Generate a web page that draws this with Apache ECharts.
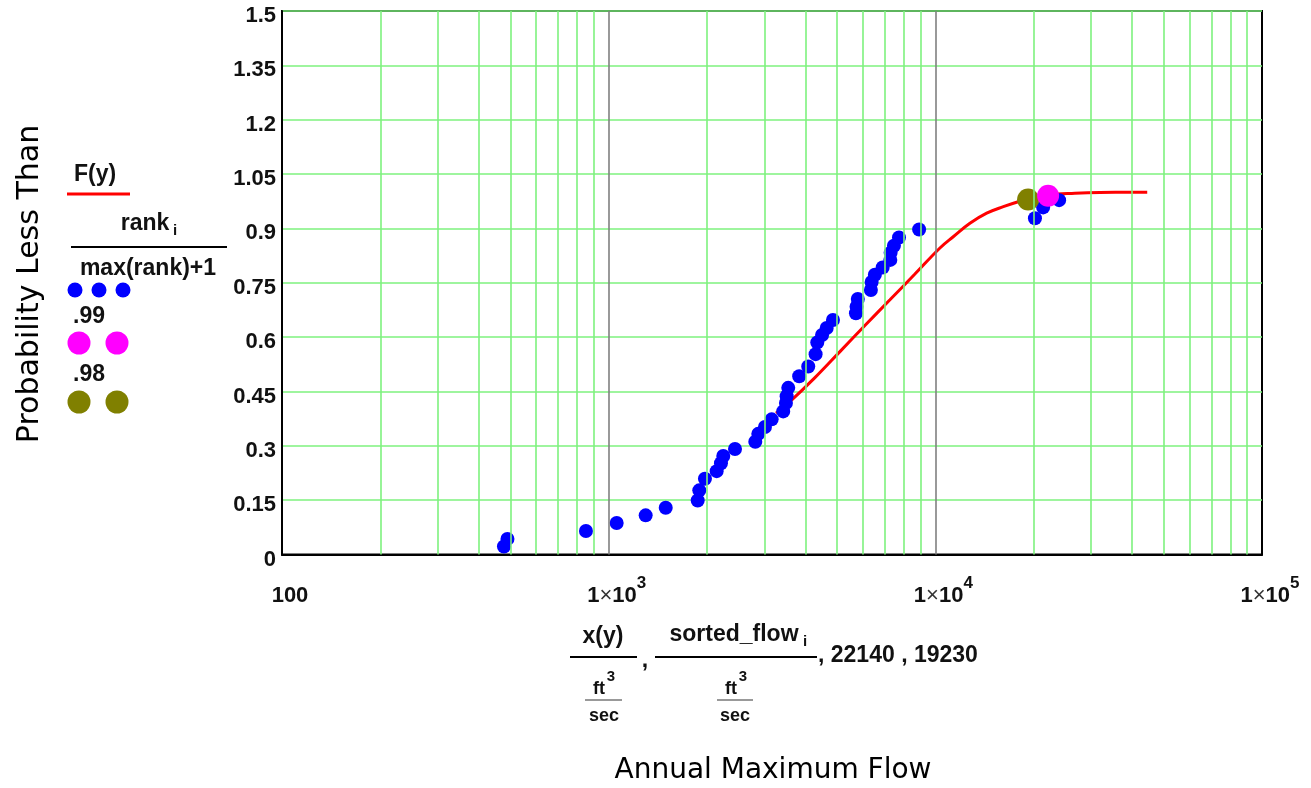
<!DOCTYPE html>
<html>
<head>
<meta charset="utf-8">
<script src="https://cdn.jsdelivr.net/npm/echarts@6/dist/echarts.min.js"></script>
<style>
html,body{margin:0;padding:0;background:#fff;}
#chart{width:1311px;height:788px;}
</style>
</head>
<body>
<div id="chart"></div>
<script>
// ---- Data ----
const sortedFlow = [478, 490, 852, 1058, 1298, 1495, 1873, 1894, 1971, 2141, 2207, 2243, 2436, 2811, 2871, 3009, 3155, 3422, 3489, 3506, 3546,
  3830, 4083, 4300, 4351, 4500, 4650, 4860, 5715, 5740, 5790, 6350, 6383, 6530, 6898, 7280, 7297, 7470, 7740, 8920, 20180, 21380, 23930];
const rankProb = [0.022, 0.043, 0.065, 0.087, 0.108, 0.129, 0.149, 0.177, 0.209, 0.230, 0.252, 0.272, 0.291, 0.311, 0.333, 0.352, 0.373, 0.395, 0.418, 0.437, 0.460,
  0.492, 0.519, 0.553, 0.585, 0.606, 0.625, 0.647, 0.666, 0.684, 0.705, 0.730, 0.752, 0.772, 0.792, 0.813, 0.833, 0.852, 0.875, 0.897, 0.928, 0.958, 0.978];
const curveFlow = [3252, 3589, 4280, 5105, 6087, 7262, 8660, 10330, 11345, 12760, 14360, 16150, 18140, 20180, 22160, 26750, 31900, 44530];
const curveProb = [0.39, 0.422, 0.488, 0.560, 0.632, 0.703, 0.774, 0.846, 0.877, 0.914, 0.942, 0.960, 0.975, 0.986, 0.993, 0.997, 0.999, 1.0];
const point99 = [22140, 0.99];
const point98 = [19230, 0.98];
const xTickValues = [100, 1000, 10000, 100000];
const xTickLabels = ['100', '1×10^3', '1×10^4', '1×10^5'];
const yTickLabels = ['0', '0.15', '0.3', '0.45', '0.6', '0.75', '0.9', '1.05', '1.2', '1.35', '1.5'];

// ---- Build ----
const FF = '"Liberation Sans", Arial, Helvetica, sans-serif';
const TF = '"DejaVu Sans", "Open Sans", sans-serif';
const GREEN = '#7ef27e';

const blueData = sortedFlow.map((f, i) => [f, rankProb[i]]);
const curveData = curveFlow.map((f, i) => [f, curveProb[i]]);

const minorLines = [];
for (let d = 100; d < 100000; d *= 10) {
  for (let m = 2; m <= 9; m++) minorLines.push({ xAxis: d * m });
}
const majorLines = [{ xAxis: 1000 }, { xAxis: 10000 }];

function xLabel(v) {
  const idx = xTickValues.findIndex(t => Math.abs(Math.log10(t) - Math.log10(v)) < 1e-6);
  if (idx < 0) return '';
  const s = xTickLabels[idx];
  if (s.indexOf('^') < 0) return '{b|' + s + '}';
  const parts = s.split('^');
  const base = parts[0].split('×');
  return '{b|' + base[0] + '}{x|×}{b|' + base[1] + '}{s|' + parts[1] + '}';
}
function yLabel(v) {
  const idx = Math.round(v / 0.15);
  return yTickLabels[idx] !== undefined ? '{a|' + yTickLabels[idx] + '}' : '';
}

const bold22 = 'bold 23px ' + FF;
const bold18 = 'bold 18px ' + FF;
const bold15 = 'bold 15px ' + FF;
function txt(text, x, y, font, align, color) {
  return { type: 'text', z: 100, style: { text: text, x: x, y: y, font: font, fill: color || '#111',
    textAlign: align || 'center', textVerticalAlign: 'middle', align: align || 'center', verticalAlign: 'middle' } };
}
function ln(x1, y1, x2, y2, color, w) {
  return { type: 'line', z: 100, shape: { x1: x1, y1: y1, x2: x2, y2: y2 }, style: { stroke: color, lineWidth: w } };
}
function dot(cx, cy, r, color) {
  return { type: 'circle', z: 100, shape: { cx: cx, cy: cy, r: r }, style: { fill: color } };
}

const graphics = [
  // axis titles
  { type: 'text', z: 100, x: 30, y: 284, rotation: Math.PI / 2,
    style: { text: 'Probability Less Than', font: '30px ' + TF, fill: '#000', textAlign: 'center', textVerticalAlign: 'middle', align: 'center', verticalAlign: 'middle' } },
  txt('Annual Maximum Flow', 773, 771, '28px ' + TF, 'center', '#000'),
  // legend
  txt('F(y)', 95, 175, bold22),
  ln(67, 194, 130, 194, '#ff0000', 3),
  txt('rank', 145, 224, bold22),
  txt('i', 175, 231, bold15),
  ln(71, 247, 227, 247, '#000', 2),
  txt('max(rank)+1', 148, 269, bold22),
  dot(75, 290, 7.5, '#0000ff'), dot(99, 290, 7.5, '#0000ff'), dot(123, 290, 7.5, '#0000ff'),
  txt('.99', 89, 317, bold22),
  dot(79, 343, 11.5, '#ff00ff'), dot(117, 343, 11.5, '#ff00ff'),
  txt('.98', 89, 375, bold22),
  dot(79, 402, 11.5, '#808000'), dot(117, 402, 11.5, '#808000'),
  // x expression
  txt('x(y)', 603, 637, bold22),
  ln(570, 657, 637, 657, '#000', 2),
  txt('ft', 599, 689, bold18),
  txt('3', 611, 677, bold15),
  ln(585, 700, 622, 700, '#777', 1.5),
  txt('sec', 604, 716, bold18),
  txt(',', 645, 661, bold22),
  txt('sorted_flow', 734, 635, bold22),
  txt('i', 805, 642, bold15),
  ln(655, 657, 817, 657, '#000', 2),
  txt('ft', 731, 689, bold18),
  txt('3', 743, 677, bold15),
  ln(717, 700, 753, 700, '#777', 1.5),
  txt('sec', 735, 716, bold18),
  txt(', 22140 , 19230', 818, 656, bold22, 'left')
];

const chart = echarts.init(document.getElementById('chart'), null, { renderer: 'canvas' });
chart.setOption({
  animation: false,
  backgroundColor: '#fff',
  grid: { left: 282, top: 11, right: 49, bottom: 233.5, show: true, borderColor: '#000', borderWidth: 2, backgroundColor: 'transparent' },
  xAxis: {
    type: 'log', logBase: 10, min: 100, max: 100000,
    axisLine: { show: true, lineStyle: { color: '#000', width: 2 } },
    axisTick: { show: false },
    splitLine: { show: false },
    minorSplitLine: { show: false },
    axisLabel: {
      formatter: xLabel, margin: 20, padding: [0, 0, 0, 16], showMinLabel: true, showMaxLabel: true,
      rich: {
        b: { fontFamily: FF, fontSize: 22, fontWeight: 'bold', color: '#111', lineHeight: 32, verticalAlign: 'bottom' },
        x: { fontFamily: FF, fontSize: 22, fontWeight: 'normal', color: '#333', lineHeight: 32, verticalAlign: 'bottom' },
        s: { fontFamily: FF, fontSize: 17, fontWeight: 'bold', color: '#111', lineHeight: 14, verticalAlign: 'top' }
      }
    }
  },
  yAxis: {
    type: 'value', min: 0, max: 1.5, interval: 0.15,
    axisLine: { show: true, lineStyle: { color: '#000', width: 2 } },
    axisTick: { show: false },
    splitLine: { show: true, lineStyle: { color: GREEN, width: 1.6 } },
    axisLabel: {
      formatter: yLabel, margin: 6, showMinLabel: true, showMaxLabel: true,
      rich: { a: { fontFamily: FF, fontSize: 22, fontWeight: 'bold', color: '#111', padding: [10, 0, 0, 0] } }
    }
  },
  graphic: graphics,
  series: [
    {
      type: 'line', data: [], z: 1, silent: true,
      markLine: {
        silent: true, symbol: ['none', 'none'], label: { show: false }, animation: false,
        lineStyle: { color: GREEN, width: 1.6, type: 'solid' },
        data: minorLines
      }
    },
    {
      type: 'line', data: [], z: 1, silent: true,
      markLine: {
        silent: true, symbol: ['none', 'none'], label: { show: false }, animation: false,
        lineStyle: { color: '#808080', width: 1.6, type: 'solid' },
        data: majorLines
      }
    },
    {
      name: 'F(y)', type: 'line', data: curveData, smooth: 0.4, showSymbol: false, z: 2,
      lineStyle: { color: '#ff0000', width: 3 }
    },
    {
      name: 'rank', type: 'scatter', data: blueData, symbolSize: 14, z: 3,
      itemStyle: { color: '#0000ff', opacity: 1 }
    },
    {
      name: '.98', type: 'scatter', data: [point98], symbolSize: 22, z: 4,
      itemStyle: { color: '#808000', opacity: 1 }
    },
    {
      name: '.99', type: 'scatter', data: [point99], symbolSize: 22, z: 5,
      itemStyle: { color: '#ff00ff', opacity: 1 }
    }
  ]
});
</script>
</body>
</html>
